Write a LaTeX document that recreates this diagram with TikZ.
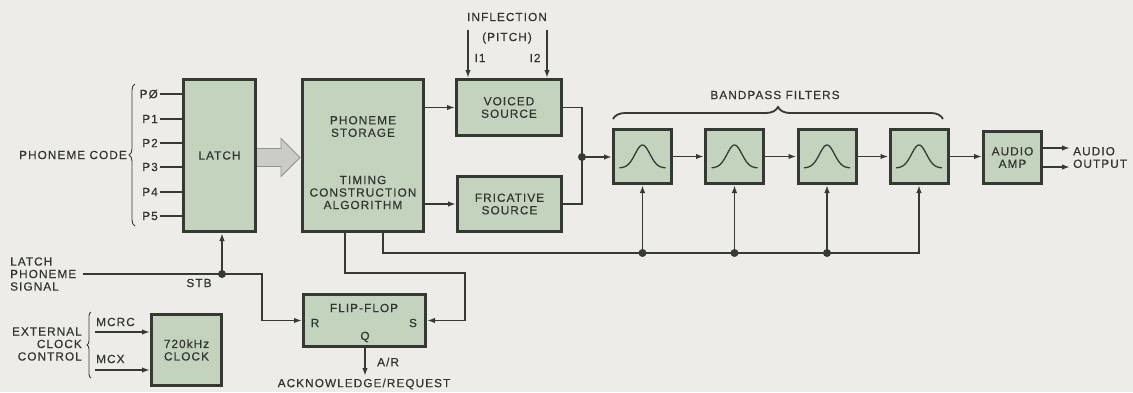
\documentclass[tikz,border=0pt]{standalone}
\usepackage{fontspec}
\setmainfont{Liberation Sans}[LetterSpace=9,FakeBold=0.5]
\usetikzlibrary{arrows.meta,decorations.pathreplacing,calc}
\definecolor{bg}{HTML}{EDECE8}
\definecolor{boxfill}{HTML}{C4D3BD}
\definecolor{boxline}{HTML}{343934}
\definecolor{ln}{HTML}{363936}
\definecolor{txt}{HTML}{333533}
\definecolor{arrfill}{HTML}{CBCBC7}
\definecolor{arrline}{HTML}{929290}
\begin{document}
\begin{tikzpicture}[x=1pt,y=-1pt,
  every node/.style={font=\fontsize{11.8}{12.5}\selectfont, text=txt, inner sep=0pt},
  blk/.style={draw=boxline, line width=3pt, fill=boxfill, align=center},
  wire/.style={draw=ln, line width=1.6pt},
  arr/.style={wire, -{Latex[length=8pt,width=5.5pt]}},
  brc/.style={draw=ln, line width=0.9pt, decorate},
  bigarr/.style={fill=arrfill, draw=arrline, line width=0.8pt, line join=miter},
  jdot/.style={fill=ln}]
\useasboundingbox (0,0) rectangle (1133,392);
\fill[bg] (0,0) rectangle (1133,392);

% blocks
\node[blk, minimum width=72pt, minimum height=152pt] (latch) at (219.5,155.5) {LATCH};
\node[blk, minimum width=121pt, minimum height=152pt] (stor) at (363,155.5) {};
\node[align=center] (storA) at (363,126.5) {PHONEME\\STORAGE};
\node[align=center] (storB) at (363,192.5) {TIMING\\CONSTRUCTION\\ALGORITHM};
\node[blk, minimum width=105pt, minimum height=56pt] (voiced) at (509,107.5) {VOICED\\SOURCE};
\node[blk, minimum width=104pt, minimum height=55pt] (fric) at (509.5,204) {FRICATIVE\\SOURCE};
\foreach \n/\x in {f1/642.5,f2/734.5,f3/827,f4/919}{
  \node[blk, minimum width=58pt, minimum height=54pt] (\n) at (\x,156.5) {};
  \draw[ln, line width=1.3pt, shift={(\n.center)}]
    plot[smooth, domain=-23:23, samples=41] (\x,{11.5-23*exp(-(\x*\x)/110)});
}
\node[blk, minimum width=58pt, minimum height=52pt] (amp) at (1012.5,157.5) {AUDIO\\AMP};
\node[blk, minimum width=122pt, minimum height=52pt] (ff) at (364.5,320.5) {};
\node (ffl) at (364,308) {FLIP-FLOP};
\node (ffr) at (315,323) {R};
\node (ffs) at (413,323) {S};
\node (ffq) at (365,337) {Q};
\node[blk, minimum width=70pt, minimum height=71pt] (clock) at (186.5,350) {720kHz\\CLOCK};

% phoneme code inputs
\node[anchor=east] (pc) at (127,155) {PHONEME CODE};
\foreach \t/\y/\i in {PØ/94/0,P1/119/1,P2/143/2,P3/167/3,P4/192/4,P5/216/5}{
  \node[anchor=east] (p\i) at (158,\y) {\t};
  \draw[wire] ([xshift=1.5pt]p\i.east) -- (p\i.east -| latch.west);
}
\draw[brc, decoration={brace, amplitude=6pt}] (135,226) -- (135,84);

% big arrow latch -> storage
\draw[bigarr] (257,148.5) -- (281,148.5) -- (281,138.5) -- (300,157.5)
  -- (281,176.5) -- (281,166.5) -- (257,166.5);

% storage -> sources
\draw[arr] (voiced.west -| stor.east) -- (voiced.west);
\draw[arr] (fric.west -| stor.east) -- (fric.west);

% inflection
\node (infl) at (507,17) {INFLECTION};
\node (pitch) at (507,38) {(PITCH)};
\coordinate (i1) at (468,30);
\coordinate (i2) at (547,30);
\draw[arr] (i1) -- (i1 |- voiced.north);
\draw[arr] (i2) -- (i2 |- voiced.north);
\node (i1l) at (480,58) {I1};
\node (i2l) at (535,58) {I2};

% sum junction
\coordinate (j1) at (582,157);
\draw[wire] (voiced.east) -| (j1);
\draw[wire] (fric.east) -| (j1);
\fill[jdot] (j1) circle (4pt);
\draw[arr] (j1) -- (j1 -| f1.west);
\draw[arr] (f1.east) -- (f2.west);
\draw[arr] (f2.east) -- (f3.west);
\draw[arr] (f3.east) -- (f4.west);
\draw[arr] (f4.east) -- (f4.east -| amp.west);

% bandpass brace
\draw[brc, line width=1.8pt, decoration={brace, amplitude=12pt}] (613,119) -- (943,119);
\node (bpf) at (775,95) {BANDPASS FILTERS};

% audio outputs
\coordinate (o1) at (1070,148);
\coordinate (o2) at (1070,167);
\draw[arr] (o1 -| amp.east) -- (o1);
\draw[arr] (o2 -| amp.east) -- (o2);
\node[anchor=west, align=left] (aout) at (1073,157.5) {AUDIO\\OUTPUT};

% filter control bus
\coordinate (b0) at (383,253);
\draw[arr] (b0 |- stor.south) -- (b0) -- (f4.south |- b0) -- (f4.south);
\foreach \n in {f1,f2,f3}{
  \draw[arr] (\n.south |- b0) -- (\n.south);
  \fill[jdot] (\n.south |- b0) circle (4pt);
}

% storage -> flip-flop S
\coordinate (s1) at (345,273);
\coordinate (s2) at (465,273);
\draw[arr] (s1 |- stor.south) -- (s1) -- (s2) |- (ff.east);

% latch phoneme signal
\node[anchor=west, align=left] (lpsl) at (10,274) {LATCH\\PHONEME\\SIGNAL};
\coordinate (lps) at (83,274);
\coordinate (stb) at (222,274);
\coordinate (cR) at (262,274);
\draw[wire] (lps) -- (stb);
\draw[arr] (stb) -- (stb |- latch.south);
\draw[arr] (stb) -- (cR) |- (ff.west);
\fill[jdot] (stb) circle (4pt);
\node (stbl) at (199,283) {STB};

% flip-flop output
\coordinate (qout) at (365,376);
\draw[arr] (qout |- ff.south) -- (qout);
\node[anchor=west] (arl) at (377,362) {A/R};
\node (ack) at (364,384) {ACKNOWLEDGE/REQUEST};

% clock inputs
\node[anchor=east, align=right] (ecc) at (82,344) {EXTERNAL\\CLOCK\\CONTROL};
\draw[brc, decoration={brace, amplitude=4pt}] (91,378) -- (91,312);
\coordinate (mcrc) at (95,332);
\coordinate (mcx) at (95,370);
\draw[arr] (mcrc) -- (mcrc -| clock.west);
\draw[arr] (mcx) -- (mcx -| clock.west);
\node[anchor=west] (mcrcl) at (96,322) {MCRC};
\node[anchor=west] (mcxl) at (96,359) {MCX};
\end{tikzpicture}
\end{document}
